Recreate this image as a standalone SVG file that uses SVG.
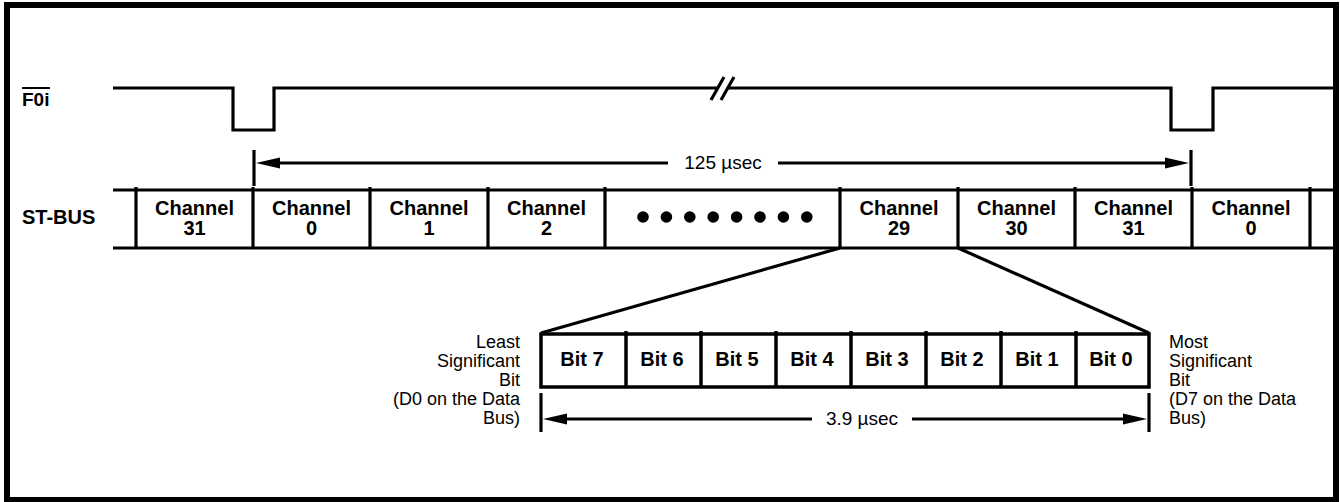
<svg xmlns="http://www.w3.org/2000/svg" width="1340" height="502" viewBox="0 0 1340 502">
<style>
.ln{fill:none;stroke:#000;stroke-width:3.2;stroke-linecap:butt}
.thin{fill:none;stroke:#000;stroke-width:2}
.ah{fill:#000;stroke:none}
.b{font-family:"Liberation Sans",Arial,sans-serif;font-weight:bold;font-size:20px;fill:#000}
.r{font-family:"Liberation Sans",Arial,sans-serif;font-size:18px;fill:#000}
.c{text-anchor:middle}
.e{text-anchor:end}
</style>
<rect x="0" y="0" width="1340" height="502" fill="#fff"/>
<rect x="7" y="5" width="1329" height="495" fill="none" stroke="#000" stroke-width="6"/>

<g id="f0i">
  <text class="b" x="22" y="106" style="font-size:19px">F0i</text>
  <line class="thin" x1="22" y1="88" x2="50" y2="88"/>
  <path class="ln" d="M113,88 H233 V130 H274 V88 H718 M728,88 H1171 V130 H1213 V88 H1333"/>
  <path class="ln" d="M711,100 L724,77 M721,100 L734,77"/>
</g>

<g id="frame-arrow">
  <line class="ln" x1="254" y1="150" x2="254" y2="186"/>
  <line class="ln" x1="1191" y1="150" x2="1191" y2="186"/>
  <line class="ln" x1="270" y1="163" x2="668" y2="163"/>
  <line class="ln" x1="778" y1="163" x2="1175" y2="163"/>
  <polygon class="ah" points="256,163 280,157.5 280,168.5"/>
  <polygon class="ah" points="1189,163 1165,157.5 1165,168.5"/>
  <text class="r c" x="723" y="169" style="font-size:19px">125 µsec</text>
</g>

<g id="st-bus">
  <text class="b" x="22" y="224">ST-BUS</text>
  <line class="ln" x1="113" y1="190" x2="1333" y2="190"/>
  <line class="ln" x1="113" y1="248" x2="1333" y2="248"/>
  <path class="ln" d="M136,187 V249 M253,187 V249 M370,187 V249 M488,187 V249 M605,187 V249 M840,187 V249 M958,187 V249 M1075,187 V249 M1192,187 V249 M1310,187 V249"/>
</g>
<g id="ch31a"><text class="b c" x="194.5" y="215">Channel</text><text class="b c" x="194.5" y="235">31</text></g>
<g id="ch0a"><text class="b c" x="311.5" y="215">Channel</text><text class="b c" x="311.5" y="235">0</text></g>
<g id="ch1"><text class="b c" x="429" y="215">Channel</text><text class="b c" x="429" y="235">1</text></g>
<g id="ch2"><text class="b c" x="546.5" y="215">Channel</text><text class="b c" x="546.5" y="235">2</text></g>
<g id="dots">
  <circle cx="643" cy="217" r="5.8"/><circle cx="666.4" cy="217" r="5.8"/><circle cx="689.8" cy="217" r="5.8"/><circle cx="713.2" cy="217" r="5.8"/>
  <circle cx="736.6" cy="217" r="5.8"/><circle cx="760" cy="217" r="5.8"/><circle cx="783.4" cy="217" r="5.8"/><circle cx="806.8" cy="217" r="5.8"/>
</g>
<g id="ch29"><text class="b c" x="899" y="215">Channel</text><text class="b c" x="899" y="235">29</text></g>
<g id="ch30"><text class="b c" x="1016.5" y="215">Channel</text><text class="b c" x="1016.5" y="235">30</text></g>
<g id="ch31b"><text class="b c" x="1133.5" y="215">Channel</text><text class="b c" x="1133.5" y="235">31</text></g>
<g id="ch0b"><text class="b c" x="1251" y="215">Channel</text><text class="b c" x="1251" y="235">0</text></g>

<g id="connectors">
  <line class="ln" x1="840" y1="248" x2="541" y2="333"/>
  <line class="ln" x1="958" y1="248" x2="1149" y2="333"/>
</g>

<g id="bits">
  <rect class="ln" x="541" y="334" width="608" height="53" style="stroke-width:3.5"/>
  <path class="ln" d="M626,331 V387 M701,331 V387 M776,331 V387 M851,331 V387 M926,331 V387 M1001,331 V387 M1076,331 V387" style="stroke-width:3.5"/>
  <text class="b c" x="582" y="366">Bit 7</text>
  <text class="b c" x="662" y="366">Bit 6</text>
  <text class="b c" x="737" y="366">Bit 5</text>
  <text class="b c" x="812" y="366">Bit 4</text>
  <text class="b c" x="887" y="366">Bit 3</text>
  <text class="b c" x="962" y="366">Bit 2</text>
  <text class="b c" x="1037" y="366">Bit 1</text>
  <text class="b c" x="1111" y="366">Bit 0</text>
</g>

<g id="lsb">
  <text class="r e" x="520" y="348">Least</text>
  <text class="r e" x="520" y="367">Significant</text>
  <text class="r e" x="520" y="386">Bit</text>
  <text class="r e" x="520" y="405">(D0 on the Data</text>
  <text class="r e" x="520" y="424">Bus)</text>
</g>
<g id="msb">
  <text class="r" x="1169" y="348">Most</text>
  <text class="r" x="1169" y="367">Significant</text>
  <text class="r" x="1169" y="386">Bit</text>
  <text class="r" x="1169" y="405">(D7 on the Data</text>
  <text class="r" x="1169" y="424">Bus)</text>
</g>

<g id="bit-arrow">
  <line class="ln" x1="541" y1="393" x2="541" y2="432"/>
  <line class="ln" x1="1149" y1="393" x2="1149" y2="432"/>
  <line class="ln" x1="560" y1="419" x2="812" y2="419"/>
  <line class="ln" x1="912" y1="419" x2="1130" y2="419"/>
  <polygon class="ah" points="543,419 567,413.5 567,424.5"/>
  <polygon class="ah" points="1147,419 1123,413.5 1123,424.5"/>
  <text class="r c" x="862" y="425" style="font-size:19px">3.9 µsec</text>
</g>
</svg>
